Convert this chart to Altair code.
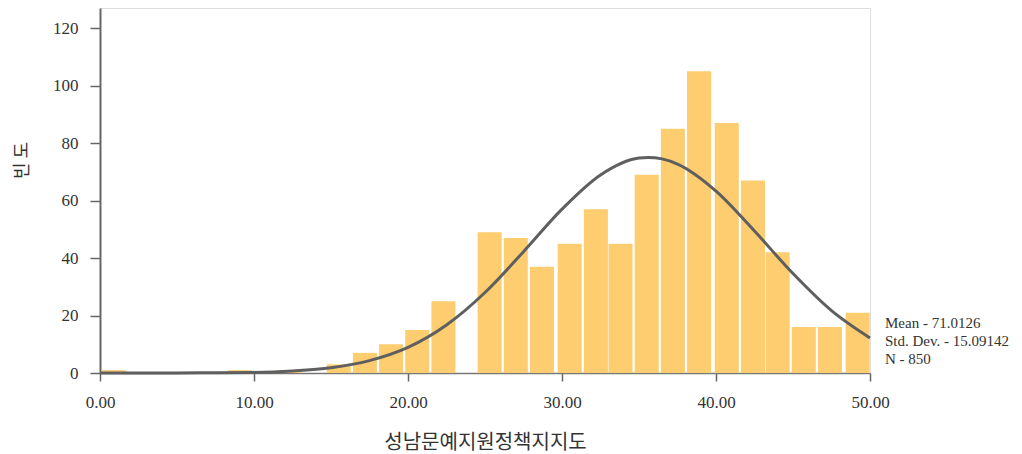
import altair as alt
import pandas as pd

# Histogram bars: bar centre (x-axis units) and frequency
bar_centers = [0.9, 9.1, 12.3, 15.5, 17.2, 18.9, 20.6, 22.3, 25.3, 27.0, 28.7, 30.5,
               32.2, 33.8, 35.5, 37.2, 38.9, 40.7, 42.4, 44.0, 45.7, 47.4, 49.2]
bar_counts = [1, 1, 1, 3, 7, 10, 15, 25, 49, 47, 37, 45,
              57, 45, 69, 85, 105, 87, 67, 42, 16, 16, 21]

# Fitted normal curve
curve_x = [0, 2.5, 5, 7.5, 10, 12.5, 15, 17.5, 20, 22.5, 25, 27.5, 30, 32.5, 35, 35.6,
           36.5, 37.5, 40, 42.5, 45, 47.5, 50]
curve_y = [0.0, 0.0, 0.0, 0.1, 0.2, 0.7, 1.8, 4.3, 8.9, 16.7, 28.0, 42.2, 57.0, 68.9,
           74.8, 75.0, 74.5, 72.7, 63.3, 49.4, 34.6, 21.7, 12.2]

x_ticks = [0, 10, 20, 30, 40, 50]
y_ticks = [0, 20, 40, 60, 80, 100, 120]

stat_mean = "71.0126"
stat_sd = "15.09142"
stat_n = "850"

x_title = "성남문예지원정책지지도"
y_title = "빈 도"

bars_df = pd.DataFrame({"c": bar_centers, "n": bar_counts})
curve_df = pd.DataFrame({"x": curve_x, "y": curve_y})

SERIF = "Liberation Serif"
KR = "Noto Sans CJK KR"
HALF = 0.78

xscale = alt.Scale(domain=[0, 50], nice=False, zero=False)
yscale = alt.Scale(domain=[0, 127], nice=False)

bars = alt.Chart(bars_df).transform_calculate(
    lo=f"datum.c - {HALF}", hi=f"datum.c + {HALF}"
).mark_rect(color="#FDCD6F").encode(
    x=alt.X("lo:Q", scale=xscale,
            axis=alt.Axis(values=x_ticks, format=".2f", title=x_title,
                          tickSize=8, labelPadding=13, labelFont=SERIF,
                          labelFontSize=17, labelColor="#333333",
                          labelFlush=False,
                          tickColor="#666666", domainColor="#777777",
                          domainWidth=1.5, tickWidth=1.5, grid=False,
                          titleFont=KR, titleFontSize=20, titleFontWeight="normal",
                          titleColor="#333333", titleY=59)),
    x2="hi:Q",
    y=alt.Y("n:Q", scale=yscale,
            axis=alt.Axis(values=y_ticks, title=y_title, tickSize=10,
                          labelPadding=12, labelFont=SERIF, labelFontSize=17,
                          labelColor="#333333", tickColor="#666666",
                          domainColor="#666666", domainWidth=2, tickWidth=1.5,
                          grid=False, titleFont=KR, titleFontSize=18,
                          titleFontWeight="normal", titleColor="#333333",
                          titleX=-69, titleY=152)),
    y2=alt.datum(0),
)

curve = alt.Chart(curve_df).mark_line(
    color="#5f5f5f", strokeWidth=3, interpolate="monotone"
).encode(x=alt.X("x:Q", scale=xscale), y=alt.Y("y:Q", scale=yscale))

stats_text = f"Mean - {stat_mean}\nStd. Dev. - {stat_sd}\nN - {stat_n}"
stats = alt.Chart(pd.DataFrame({"t": [stats_text]})).mark_text(
    align="left", baseline="alphabetic", font=SERIF, fontSize=15,
    color="#333333", lineHeight=18, lineBreak="\n"
).encode(x=alt.value(785), y=alt.value(320), text="t:N")

chart = alt.layer(bars, curve, stats).properties(
    width=770, height=365,
    autosize=alt.AutoSizeParams(type="none"),
    padding={"left": 92, "top": 0, "right": 143, "bottom": 80},
).configure_view(stroke="#999999", strokeWidth=2).configure(background="white")

chart.save("out.html", embed_options={"renderer": "svg", "actions": False})
